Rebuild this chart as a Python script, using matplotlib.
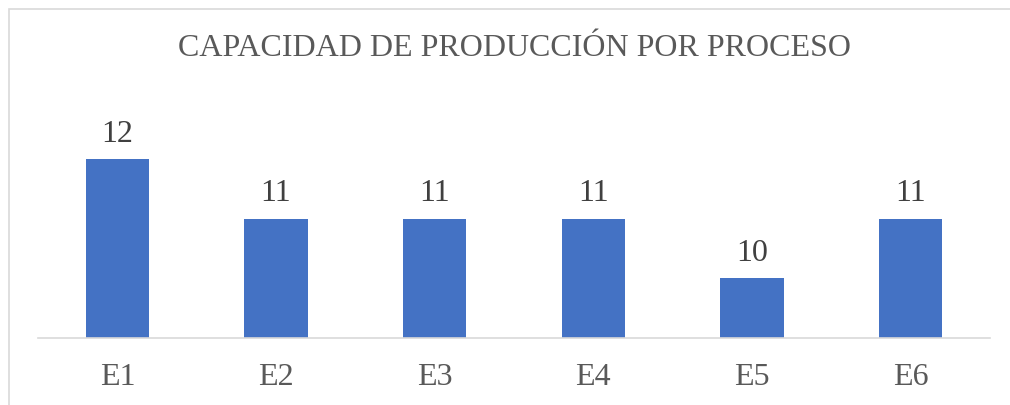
import matplotlib.pyplot as plt
from matplotlib.patches import Rectangle

# Capacidad de producción por proceso
procesos = ['E1', 'E2', 'E3', 'E4', 'E5', 'E6']
capacidad = [12, 11, 11, 11, 10, 11]

plt.rcParams['font.family'] = ['Liberation Serif', 'DejaVu Serif']

fig = plt.figure(figsize=(10.1, 4.05), dpi=100)

# marco del gráfico (estilo Excel)
fig.patches.append(Rectangle((9 / 1010, -0.1), 1.2, (405 - 9) / 405 + 0.1,
                             transform=fig.transFigure, fill=False,
                             edgecolor='#d9d9d9', linewidth=1.2))

ax = fig.add_axes([38 / 1010, (405 - 338) / 405, 952 / 1010, 239 / 405])
x = range(len(procesos))
bars = ax.bar(x, capacidad, width=0.40, color='#4472c4', bottom=0)
ax.set_ylim(9, 13)
ax.set_xlim(-0.5, len(procesos) - 0.5)

for b, v in zip(bars, capacidad):
    ax.text(b.get_x() + b.get_width() / 2, v + 0.17, str(v),
            ha='center', va='bottom', fontsize=23, color='#404040')

ax.set_xticks(list(x))
ax.set_xticklabels(procesos, fontsize=23, color='#595959')
ax.tick_params(axis='x', length=0, pad=18)
ax.set_yticks([])
for s in ['top', 'right', 'left']:
    ax.spines[s].set_visible(False)
ax.spines['bottom'].set_color('#d9d9d9')
ax.spines['bottom'].set_linewidth(1.2)

fig.text(514 / 1010, 1 - 49 / 405, 'CAPACIDAD DE PRODUCCIÓN POR PROCESO',
         ha='center', va='center', fontsize=23, color='#595959')

fig.savefig('out.png', dpi=100)
